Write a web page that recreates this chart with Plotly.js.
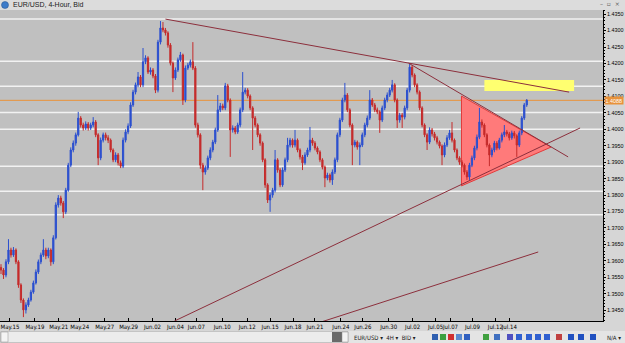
<!DOCTYPE html>
<html><head><meta charset="utf-8">
<script src="https://cdn.plot.ly/plotly-3.0.1.min.js"></script>
<style>html,body{margin:0;padding:0;background:#c0c0c0;}#chart{width:625px;height:343px;}</style>
</head><body><div id="chart"></div>
<script>
// ---- Data: EUR/USD 4-hour bars ----
const open = [1.3580,1.3572,1.3557,1.3597,1.3633,1.3618,1.3633,1.3597,1.3527,1.3481,
1.3451,1.3466,1.3481,1.3505,1.3533,1.3566,1.3597,1.3618,1.3633,1.3615,
1.3633,1.3597,1.3670,1.3770,1.3791,1.3776,1.3749,1.3815,1.3891,1.3937,
1.3958,1.3983,1.4034,1.4013,1.4004,1.4016,1.4004,1.4013,1.4022,1.3983,
1.3913,1.3967,1.3983,1.3974,1.3967,1.3937,1.3907,1.3922,1.3898,1.3888,
1.3967,1.3992,1.4010,1.4074,1.4113,1.4135,1.4159,1.4135,1.4205,1.4217,
1.4174,1.4180,1.4162,1.4119,1.4265,1.4308,1.4302,1.4293,1.4256,1.4201,
1.4156,1.4180,1.4211,1.4226,1.4089,1.4186,1.4195,1.4205,1.4186,1.4013,
1.3983,1.3891,1.3870,1.3882,1.3913,1.3937,1.3961,1.3998,1.4059,1.4071,
1.4065,1.4132,1.4089,1.3998,1.4004,1.3992,1.4013,1.4059,1.4113,1.4119,
1.4101,1.4065,1.4034,1.4013,1.3983,1.3958,1.3907,1.3831,1.3785,1.3800,
1.3815,1.3907,1.3876,1.3831,1.3876,1.3907,1.3952,1.3967,1.3952,1.3967,
1.3937,1.3916,1.3898,1.3922,1.3937,1.3967,1.3958,1.3943,1.3931,1.3907,
1.3885,1.3852,1.3861,1.3846,1.3870,1.3907,1.3983,1.4028,1.4089,1.4104,
1.4059,1.4013,1.3952,1.3961,1.3946,1.3952,1.3983,1.4013,1.4034,1.4089,
1.4074,1.4059,1.4053,1.4028,1.4065,1.4089,1.4104,1.4119,1.4135,1.4089,
1.4028,1.4043,1.4037,1.4065,1.4119,1.4189,1.4165,1.4135,1.4113,1.4065,
1.4013,1.3983,1.3961,1.3998,1.3986,1.3974,1.3961,1.3949,1.3922,1.3952,
1.3974,1.3989,1.3967,1.3937,1.3913,1.3900,1.3891,1.3870,1.3855,1.3891,
1.3913,1.3943,1.3976,1.4022,1.4013,1.3983,1.3952,1.3922,1.3937,1.3958,
1.3943,1.3967,1.3983,1.3992,1.3986,1.3974,1.3989,1.3980,1.3952,1.3989,
1.4034,1.4074];
const high = [1.3590,1.3578,1.3605,1.3666,1.3640,1.3642,1.3638,1.3602,1.3532,1.3486,
1.3474,1.3488,1.3512,1.3540,1.3574,1.3604,1.3625,1.3666,1.3640,1.3640,
1.3638,1.3678,1.3778,1.3800,1.3798,1.3782,1.3822,1.3898,1.3945,1.3966,
1.3990,1.4053,1.4040,1.4020,1.4024,1.4022,1.4020,1.4037,1.4028,1.3988,
1.3975,1.3990,1.3990,1.3982,1.3972,1.3942,1.3930,1.3928,1.3905,1.3975,
1.4000,1.4018,1.4082,1.4120,1.4142,1.4174,1.4165,1.4247,1.4225,1.4222,
1.4188,1.4186,1.4168,1.4272,1.4329,1.4326,1.4308,1.4298,1.4262,1.4206,
1.4188,1.4218,1.4235,1.4230,1.4194,1.4202,1.4212,1.4265,1.4192,1.4020,
1.3988,1.3898,1.3890,1.3920,1.3945,1.3968,1.4005,1.4104,1.4080,1.4078,
1.4141,1.4138,1.4094,1.4012,1.4010,1.4020,1.4066,1.4174,1.4126,1.4125,
1.4106,1.4070,1.4040,1.4018,1.3988,1.3963,1.3912,1.3836,1.3808,1.3822,
1.3937,1.3912,1.3882,1.3884,1.3914,1.3974,1.3974,1.3972,1.3998,1.3972,
1.3942,1.3922,1.3930,1.3944,1.4007,1.3974,1.3964,1.3948,1.3936,1.3912,
1.3890,1.3868,1.3866,1.3878,1.3914,1.3990,1.4035,1.4096,1.4141,1.4110,
1.4064,1.4018,1.3968,1.3966,1.3960,1.3990,1.4020,1.4042,1.4119,1.4095,
1.4080,1.4066,1.4058,1.4072,1.4096,1.4112,1.4126,1.4150,1.4140,1.4094,
1.4050,1.4050,1.4072,1.4126,1.4201,1.4195,1.4170,1.4140,1.4118,1.4070,
1.4018,1.3988,1.4006,1.4004,1.3992,1.3980,1.3966,1.3954,1.3960,1.3982,
1.3998,1.4022,1.3972,1.3942,1.3918,1.3906,1.3896,1.3876,1.3898,1.3920,
1.3950,1.3984,1.4065,1.4030,1.4018,1.3988,1.3957,1.3944,1.3965,1.3964,
1.3974,1.3990,1.4013,1.3998,1.3992,1.3996,1.3995,1.3985,1.3996,1.4040,
1.4080,1.4092];
const low = [1.3560,1.3545,1.3550,1.3590,1.3610,1.3612,1.3590,1.3518,1.3472,1.3429,
1.3440,1.3460,1.3476,1.3500,1.3528,1.3560,1.3590,1.3612,1.3605,1.3608,
1.3585,1.3590,1.3665,1.3762,1.3768,1.3730,1.3742,1.3810,1.3885,1.3930,
1.3950,1.3978,1.4005,1.3996,1.3998,1.3996,1.3998,1.4006,1.3976,1.3891,
1.3906,1.3960,1.3966,1.3958,1.3930,1.3900,1.3900,1.3890,1.3882,1.3882,
1.3960,1.3985,1.4004,1.4068,1.4106,1.4128,1.4128,1.4128,1.4198,1.4168,
1.4166,1.4155,1.4110,1.4112,1.4258,1.4295,1.4285,1.4248,1.4194,1.4113,
1.4150,1.4174,1.4205,1.4074,1.4082,1.4180,1.4188,1.4180,1.4005,1.3975,
1.3880,1.3815,1.3862,1.3876,1.3906,1.3930,1.3955,1.3992,1.4052,1.4058,
1.4058,1.4082,1.3916,1.3990,1.3985,1.3986,1.4006,1.4052,1.4106,1.4094,
1.4058,1.3937,1.4006,1.3976,1.3950,1.3900,1.3822,1.3776,1.3749,1.3792,
1.3808,1.3868,1.3824,1.3825,1.3870,1.3900,1.3945,1.3944,1.3945,1.3930,
1.3908,1.3876,1.3892,1.3916,1.3930,1.3950,1.3936,1.3924,1.3900,1.3878,
1.3824,1.3845,1.3838,1.3831,1.3864,1.3900,1.3976,1.4022,1.4082,1.4052,
1.4006,1.3891,1.3945,1.3938,1.3891,1.3946,1.3976,1.4006,1.4028,1.4068,
1.4052,1.4046,1.3989,1.4022,1.4058,1.4082,1.4098,1.4112,1.4082,1.4004,
1.4020,1.4004,1.4030,1.4058,1.4112,1.4158,1.4128,1.4106,1.4058,1.4006,
1.3976,1.3937,1.3955,1.3978,1.3966,1.3954,1.3942,1.3891,1.3915,1.3946,
1.3968,1.3960,1.3930,1.3906,1.3892,1.3884,1.3862,1.3846,1.3846,1.3885,
1.3906,1.3936,1.3970,1.4005,1.3976,1.3945,1.3888,1.3915,1.3930,1.3936,
1.3938,1.3960,1.3976,1.3978,1.3966,1.3968,1.3972,1.3916,1.3946,1.3982,
1.4028,1.4068];
const close = [1.3572,1.3557,1.3597,1.3633,1.3618,1.3633,1.3597,1.3527,1.3481,1.3451,
1.3466,1.3481,1.3505,1.3533,1.3566,1.3597,1.3618,1.3633,1.3615,1.3633,
1.3597,1.3670,1.3770,1.3791,1.3776,1.3749,1.3815,1.3891,1.3937,1.3958,
1.3983,1.4034,1.4013,1.4004,1.4016,1.4004,1.4013,1.4022,1.3983,1.3913,
1.3967,1.3983,1.3974,1.3967,1.3937,1.3907,1.3922,1.3898,1.3888,1.3967,
1.3992,1.4010,1.4074,1.4113,1.4135,1.4159,1.4135,1.4205,1.4217,1.4174,
1.4180,1.4162,1.4119,1.4265,1.4308,1.4302,1.4293,1.4256,1.4201,1.4156,
1.4180,1.4211,1.4226,1.4089,1.4186,1.4195,1.4205,1.4186,1.4013,1.3983,
1.3891,1.3870,1.3882,1.3913,1.3937,1.3961,1.3998,1.4059,1.4071,1.4065,
1.4132,1.4089,1.3998,1.4004,1.3992,1.4013,1.4059,1.4113,1.4119,1.4101,
1.4065,1.4034,1.4013,1.3983,1.3958,1.3907,1.3831,1.3785,1.3800,1.3815,
1.3907,1.3876,1.3831,1.3876,1.3907,1.3952,1.3967,1.3952,1.3967,1.3937,
1.3916,1.3898,1.3922,1.3937,1.3967,1.3958,1.3943,1.3931,1.3907,1.3885,
1.3852,1.3861,1.3846,1.3870,1.3907,1.3983,1.4028,1.4089,1.4104,1.4059,
1.4013,1.3952,1.3961,1.3946,1.3952,1.3983,1.4013,1.4034,1.4089,1.4074,
1.4059,1.4053,1.4028,1.4065,1.4089,1.4104,1.4119,1.4135,1.4089,1.4028,
1.4043,1.4037,1.4065,1.4119,1.4189,1.4165,1.4135,1.4113,1.4065,1.4013,
1.3983,1.3961,1.3998,1.3986,1.3974,1.3961,1.3949,1.3922,1.3952,1.3974,
1.3989,1.3967,1.3937,1.3913,1.3900,1.3891,1.3870,1.3855,1.3891,1.3913,
1.3943,1.3976,1.4022,1.4013,1.3983,1.3952,1.3922,1.3937,1.3958,1.3943,
1.3967,1.3983,1.3992,1.3986,1.3974,1.3989,1.3980,1.3952,1.3989,1.4034,
1.4074,1.4088];

// time-axis labels (bar positions) and text
const xTickPos  = [3.6,13.6,23.2,31.6,41.6,51.2,60.8,70,78.4,88.8,98.8,108,117.2,126,136.4,145.2,155.6,165.2,174.4,180.4,189.2,198.4,204];
const xTickText = ['May.15','May.19','May.21','May.24','May.27','May.29','Jun.02','Jun.04','Jun.07','Jun.10','Jun.12','Jun.15','Jun.18','Jun.21','Jun.24','Jun.26','Jun.30','Jul.02','Jul.05','Jul.07','Jul.09','Jul.12','Jul.14'];

// horizontal levels drawn on the chart
const levels = [1.4335,1.4207,1.4131,1.4051,1.4000,1.3888,1.3812,1.3740];
const lastPrice = 1.4088;

// trend lines [bar0, price0, bar1, price1]
const trendLines = [
  [66, 1.4335, 228, 1.4113],
  [163.6, 1.4201, 227.6, 1.3916],
  [69.6, 1.3417, 232.4, 1.4004],
  [128.4, 1.3414, 215.6, 1.3627]
];
// triangle vertices [bar, price]
const triangle = [[184.8,1.4101],[184.8,1.3828],[220.8,1.3946]];
// yellow zone [bar0, bar1, priceLow, priceHigh]
const zone = [194, 230, 1.4116, 1.4150];

// ---- Build ----
const bars = close.map((_, i) => i);
const PL = 0, PR = 603, PT = 10, PB = 321;
const px = x => (x - PL) / (PR - PL);
const py = y => (PB - y) / (PB - PT);

const shapes = [];
shapes.push({type:'path', layer:'below', xref:'x', yref:'y',
  path:'M '+triangle[0][0]+','+triangle[0][1]+' L '+triangle[1][0]+','+triangle[1][1]+' L '+triangle[2][0]+','+triangle[2][1]+' Z',
  fillcolor:'#ff7a7a', line:{color:'#e23a3a', width:1}});
levels.forEach(v => shapes.push({type:'line', layer:'below', xref:'paper', yref:'y', x0:0, x1:1, y0:v, y1:v, line:{color:'#f2f2f2', width:1.5}}));
shapes.push({type:'rect', layer:'below', xref:'x', yref:'y', x0:zone[0], x1:zone[1], y0:zone[2], y1:zone[3], fillcolor:'#ffff70', line:{width:0}});
shapes.push({type:'line', layer:'below', xref:'paper', yref:'y', x0:0, x1:1, y0:lastPrice, y1:lastPrice, line:{color:'#e8923a', width:1}});
trendLines.forEach(t => shapes.push({type:'line', layer:'above', xref:'x', yref:'y', x0:t[0], y0:t[1], x1:t[2], y1:t[3], line:{color:'#8c2f3c', width:1}}));

// window title bar
shapes.push({type:'rect', xref:'paper', yref:'paper', x0:px(0), x1:px(625), y0:py(10), y1:py(0), fillcolor:'#dcdcdc', line:{width:0}, layer:'above'});
shapes.push({type:'circle', xref:'paper', yref:'paper', x0:px(1.5), x1:px(8.5), y0:py(8.5), y1:py(1.5), fillcolor:'#3d7cc9', line:{color:'#25508a', width:0.5}, layer:'above'});
// bottom toolbar / scrollbar
shapes.push({type:'rect', xref:'paper', yref:'paper', x0:px(0), x1:px(625), y0:py(343), y1:py(331), fillcolor:'#e4e4e4', line:{width:0}, layer:'above'});
shapes.push({type:'rect', xref:'paper', yref:'paper', x0:px(0.5), x1:px(348), y0:py(342.5), y1:py(331.5), fillcolor:'#ececec', line:{color:'#a0a0a0', width:0.5}, layer:'above'});
shapes.push({type:'rect', xref:'paper', yref:'paper', x0:px(1), x1:px(8), y0:py(342), y1:py(332), fillcolor:'#f4f4f4', line:{color:'#909090', width:0.5}, layer:'above'});
shapes.push({type:'rect', xref:'paper', yref:'paper', x0:px(332), x1:px(342), y0:py(342), y1:py(332), fillcolor:'#6a6a6a', line:{width:0}, layer:'above'});
shapes.push({type:'rect', xref:'paper', yref:'paper', x0:px(342), x1:px(348), y0:py(342), y1:py(332), fillcolor:'#f4f4f4', line:{color:'#909090', width:0.5}, layer:'above'});
const iconX = [432,440,448,456,464,483,494,507,516,526,535,544,556,568,578,590];
const iconC = ['#2f5fb0','#3aa040','#d03030','#5a8ad0','#3060c0','#40a040','#4070c0','#5050c0','#3060d0','#3060d0','#3060d0','#3060d0','#c04040','#2050c0','#2050c0','#2050c0'];
iconX.forEach((x,k) => shapes.push({type:'rect', xref:'paper', yref:'paper', x0:px(x), x1:px(x+6), y0:py(340), y1:py(334), fillcolor:iconC[k], line:{width:0}, layer:'above'}));

const FN = 'Liberation Sans Narrow, DejaVu Sans Condensed, Liberation Sans, sans-serif';
const tf = {family:FN, size:6, color:'#000'};
const yf = {family:'Liberation Sans, Arial, sans-serif', size:5.4, color:'#000'};
const annotations = [
  {xref:'paper', yref:'paper', x:px(11), y:py(5), xanchor:'left', yanchor:'middle', text:'EUR/USD, 4-Hour, Bid', showarrow:false, font:{family:'Liberation Sans, Arial, sans-serif', size:7, color:'#202020'}},
  {xref:'paper', yref:'paper', x:px(622), y:py(4), xanchor:'right', yanchor:'middle', text:'–  ▫  ×', showarrow:false, font:{family:'DejaVu Sans, sans-serif', size:6, color:'#606060'}},
  {xref:'paper', yref:'paper', x:px(352), y:py(337), xanchor:'left', yanchor:'middle', text:'EUR/USD ▾  4H ▾  BID ▾', showarrow:false, font:{family:FN, size:6, color:'#202020'}},
  {xref:'paper', yref:'paper', x:px(623), y:py(337), xanchor:'right', yanchor:'middle', text:'N/A ▾', showarrow:false, font:{family:FN, size:6, color:'#202020'}},
  {xref:'paper', yref:'y', x:px(604), y:lastPrice, xanchor:'left', yanchor:'middle', text:lastPrice.toFixed(4), showarrow:false, bgcolor:'#e8923a', borderpad:0.5, font:{family:'Liberation Sans, Arial, sans-serif', size:5.4, color:'#ffffff'}}
];

const trace = {
  type:'candlestick', x:bars, open:open, high:high, low:low, close:close,
  increasing:{line:{color:'#2b4fcf', width:1}, fillcolor:'#2b4fcf'},
  decreasing:{line:{color:'#c52b2b', width:1}, fillcolor:'#c52b2b'},
  whiskerwidth:0, hoverinfo:'skip', showlegend:false
};

const layout = {
  width:625, height:343,
  margin:{l:PL, r:625-PR, t:PT, b:343-PB, pad:0},
  paper_bgcolor:'#d6d6d6', plot_bgcolor:'#c0c0c0',
  showlegend:false, hovermode:false, dragmode:false,
  xaxis:{range:[-0.4,241.6], rangeslider:{visible:false}, showgrid:false, zeroline:false,
    tickmode:'array', tickvals:xTickPos, ticktext:xTickText, tickangle:0, ticks:'inside', ticklen:3, tickcolor:'#000',
    showline:true, linecolor:'#000', linewidth:1, tickfont:tf, ticklabelstandoff:0},
  yaxis:{range:[1.34172,1.43626], side:'right', showgrid:false, zeroline:false,
    tick0:1.3450, dtick:0.005, tickformat:'.4f', ticks:'outside', ticklen:2, tickcolor:'#000',
    minor:{dtick:0.001, ticks:'outside', ticklen:1, tickcolor:'#000'},
    showline:true, linecolor:'#000', linewidth:1, tickfont:yf, ticklabelstandoff:0},
  shapes:shapes, annotations:annotations
};

Plotly.newPlot('chart', [trace], layout, {staticPlot:true, displayModeBar:false});
</script>
</body></html>
